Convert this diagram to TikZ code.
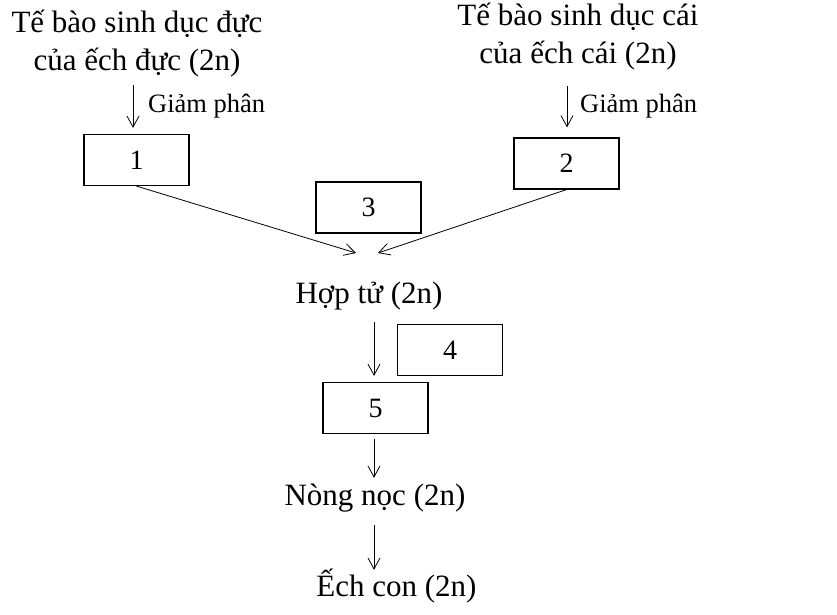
\documentclass[tikz,border=0pt]{standalone}
\usepackage{fontspec}
\setmainfont{Liberation Serif}
\usepackage{tikz}
\usetikzlibrary{arrows.meta}

\begin{document}
\begin{tikzpicture}[x=1pt, y=-1pt,
    numbox/.style={draw, line width=1.2, minimum width=105pt, minimum height=51pt, inner sep=0, font=\fontsize{28}{30}\selectfont},
    head/.style={inner sep=0, anchor=base, align=center, font=\fontsize{31}{38}\selectfont},
    txt/.style={inner sep=0, anchor=base, text height=22pt, text depth=7pt, font=\fontsize{31}{38}\selectfont},
    gp/.style={inner sep=0, anchor=base west, font=\fontsize{26.5}{30}\selectfont},
    arr/.style={-{Straight Barb[length=11pt, width=12pt]}, line width=0.8}]

  \useasboundingbox (0, 0) rectangle (837, 614);

  % base = last line
  \node[head] (male) at (137, 70) {Tế bào sinh dục đực\\của ếch đực (2n)};
  \node[head] (female) at (578, 63) {Tế bào sinh dục cái\\của ếch cái (2n)};

  \node[gp] (gp1) at (148, 112) {Giảm phân};
  \node[gp] (gp2) at (580, 112) {Giảm phân};

  \node[numbox] (b1) at (136.5, 160) {1};
  \node[numbox] (b2) at (566.5, 163.5) {2};
  \node[numbox] (b3) at (368.5, 207.5) {3};

  \coordinate (in1) at (356, 253);
  \coordinate (in2) at (378, 253);

  \node[txt] (hop) at (369, 303) {Hợp tử (2n)};
  \node[numbox] (b4) at (450, 350) {4};
  \node[numbox] (b5) at (375.5, 408) {5};
  \node[txt] (nong) at (375, 505) {Nòng nọc (2n)};
  \node[txt] (ech) at (396.5, 596) {Ếch con (2n)};

  % giam phan
  \draw[arr] ([xshift=-4pt, yshift=-8pt]male.south) -- ([xshift=-3.5pt, yshift=6pt]b1.north);
  \draw[arr] ([xshift=-11pt, yshift=-16pt]female.south) -- ([xshift=0.5pt, yshift=10pt]b2.north);

  % thu tinh
  \draw[arr] (b1.south) -- (in1);
  \draw[arr] (b2.south) -- (in2);

  \draw[arr] ([xshift=5pt, yshift=-12pt]hop.south) -- ([xshift=-1.5pt, yshift=6pt]b5.north);
  \draw[arr] ([xshift=-1.5pt, yshift=-5pt]b5.south) -- ([xshift=-1pt, yshift=5pt]nong.north);
  \draw[arr] ([xshift=-1pt, yshift=-13pt]nong.south) -- ([xshift=-22.5pt, yshift=4pt]ech.north);

\end{tikzpicture}
\end{document}
